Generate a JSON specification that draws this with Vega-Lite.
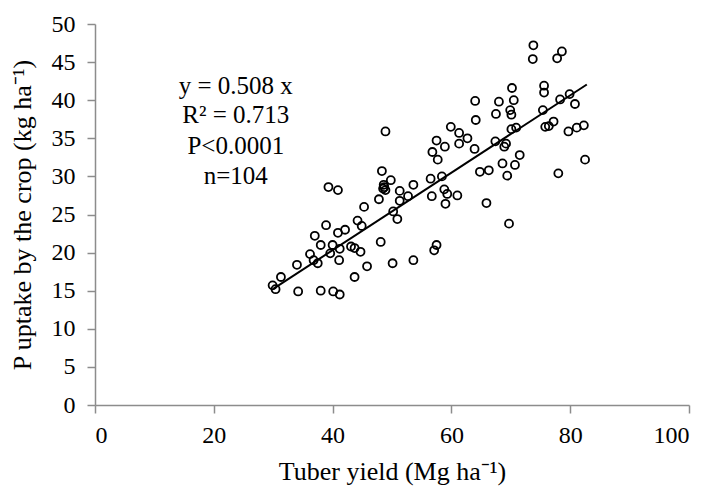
{
  "$schema": "https://vega.github.io/schema/vega-lite/v6.json",
  "width": 594,
  "height": 381,
  "autosize": {"type": "none"},
  "padding": {"left": 95, "top": 24, "right": 21, "bottom": 83},
  "background": "white",
  "config": {
    "view": {"stroke": null},
    "font": "Liberation Serif",
    "axis": {
      "grid": false,
      "domainColor": "#8c8c8c",
      "domainWidth": 1.5,
      "tickColor": "#8c8c8c",
      "tickWidth": 1.5,
      "tickSize": 8,
      "labelFont": "Liberation Serif",
      "labelFontSize": 24,
      "labelColor": "black",
      "labelOverlap": false,
      "titleFont": "Liberation Serif",
      "titleFontSize": 26,
      "titleFontWeight": "normal",
      "titleColor": "black"
    }
  },
  "datasets": {
    "pts": [
      {"yield": 48.9, "p": 35.9}, {"yield": 57.5, "p": 34.7}, {"yield": 56.8, "p": 33.2}, {"yield": 57.7, "p": 32.2},
      {"yield": 48.3, "p": 30.7}, {"yield": 49.8, "p": 29.5}, {"yield": 48.6, "p": 28.9}, {"yield": 48.7, "p": 28.6},
      {"yield": 48.9, "p": 28.2}, {"yield": 48.5, "p": 28.4}, {"yield": 53.6, "p": 28.9}, {"yield": 56.5, "p": 29.7},
      {"yield": 39.3, "p": 28.6}, {"yield": 40.9, "p": 28.2}, {"yield": 51.3, "p": 28.1}, {"yield": 47.8, "p": 27.0},
      {"yield": 51.3, "p": 26.8}, {"yield": 52.7, "p": 27.4}, {"yield": 56.7, "p": 27.4}, {"yield": 45.3, "p": 26.0},
      {"yield": 50.2, "p": 25.4}, {"yield": 50.9, "p": 24.4}, {"yield": 44.2, "p": 24.2}, {"yield": 44.9, "p": 23.5},
      {"yield": 38.9, "p": 23.6}, {"yield": 42.1, "p": 23.0}, {"yield": 40.9, "p": 22.6}, {"yield": 37.0, "p": 22.2},
      {"yield": 38.0, "p": 21.0}, {"yield": 40.0, "p": 21.0}, {"yield": 41.2, "p": 20.5}, {"yield": 48.1, "p": 21.4},
      {"yield": 43.1, "p": 20.8}, {"yield": 43.7, "p": 20.6}, {"yield": 44.7, "p": 20.1}, {"yield": 39.6, "p": 19.9},
      {"yield": 36.2, "p": 19.8}, {"yield": 36.8, "p": 19.0}, {"yield": 37.5, "p": 18.6}, {"yield": 41.1, "p": 19.0},
      {"yield": 34.0, "p": 18.4}, {"yield": 45.8, "p": 18.2}, {"yield": 50.1, "p": 18.6}, {"yield": 53.6, "p": 19.0},
      {"yield": 43.7, "p": 16.8}, {"yield": 31.3, "p": 16.8}, {"yield": 29.9, "p": 15.7}, {"yield": 30.4, "p": 15.2},
      {"yield": 34.2, "p": 14.9}, {"yield": 38.0, "p": 15.0}, {"yield": 40.1, "p": 14.9}, {"yield": 41.2, "p": 14.5},
      {"yield": 57.1, "p": 20.3}, {"yield": 57.5, "p": 21.0},
      {"yield": 73.8, "p": 47.2}, {"yield": 73.7, "p": 45.4}, {"yield": 78.6, "p": 46.4}, {"yield": 77.8, "p": 45.5},
      {"yield": 70.2, "p": 41.6}, {"yield": 75.6, "p": 41.9}, {"yield": 75.6, "p": 41.0}, {"yield": 64.0, "p": 39.9},
      {"yield": 68.0, "p": 39.8}, {"yield": 70.5, "p": 40.0}, {"yield": 79.9, "p": 40.8}, {"yield": 78.3, "p": 40.1},
      {"yield": 80.8, "p": 39.5}, {"yield": 69.9, "p": 38.7}, {"yield": 70.1, "p": 38.1}, {"yield": 67.5, "p": 38.2},
      {"yield": 75.4, "p": 38.7}, {"yield": 64.1, "p": 37.4}, {"yield": 59.9, "p": 36.5}, {"yield": 61.3, "p": 35.7},
      {"yield": 62.7, "p": 35.0}, {"yield": 61.3, "p": 34.3}, {"yield": 58.9, "p": 33.9}, {"yield": 63.9, "p": 33.6},
      {"yield": 70.1, "p": 36.2}, {"yield": 70.9, "p": 36.4}, {"yield": 67.4, "p": 34.6}, {"yield": 69.2, "p": 34.3},
      {"yield": 68.9, "p": 33.9}, {"yield": 75.8, "p": 36.5}, {"yield": 76.4, "p": 36.6}, {"yield": 77.2, "p": 37.2},
      {"yield": 79.7, "p": 35.9}, {"yield": 81.1, "p": 36.4}, {"yield": 82.3, "p": 36.7}, {"yield": 82.5, "p": 32.2},
      {"yield": 71.5, "p": 32.8}, {"yield": 68.6, "p": 31.7}, {"yield": 70.7, "p": 31.5}, {"yield": 69.4, "p": 30.1},
      {"yield": 64.8, "p": 30.6}, {"yield": 66.3, "p": 30.8}, {"yield": 78.0, "p": 30.4}, {"yield": 58.4, "p": 30.0},
      {"yield": 58.8, "p": 28.3}, {"yield": 59.3, "p": 27.7}, {"yield": 61.0, "p": 27.5}, {"yield": 59.0, "p": 26.4},
      {"yield": 65.9, "p": 26.5}, {"yield": 69.7, "p": 23.8}
    ],
    "fit": [
      {"yield": 30.0, "p": 15.24},
      {"yield": 82.8, "p": 42.06}
    ],
    "notes": [
      {"label": "y = 0.508 x", "yield": 23.7, "p": 41.9},
      {"label": "R² = 0.713", "yield": 23.7, "p": 38.0},
      {"label": "P<0.0001", "yield": 23.7, "p": 34.0},
      {"label": "n=104", "yield": 23.7, "p": 30.0}
    ]
  },
  "encoding": {
    "x": {"field": "yield", "type": "quantitative",
          "scale": {"domain": [0, 100], "nice": false, "zero": true},
          "axis": {"values": [0, 20, 40, 60, 80, 100], "title": "Tuber yield (Mg ha⁻¹)", "labelPadding": 10, "titlePadding": 11}},
    "y": {"field": "p", "type": "quantitative",
          "scale": {"domain": [0, 50], "nice": false},
          "axis": {"values": [0, 5, 10, 15, 20, 25, 30, 35, 40, 45, 50], "tickCount": 11, "title": "P uptake by the crop (kg ha⁻¹)", "labelPadding": 12, "titlePadding": 16}}
  },
  "layer": [
    {
      "data": {"name": "pts"},
      "mark": {"type": "point", "shape": "circle", "filled": false, "stroke": "black", "strokeWidth": 1.8, "size": 64, "opacity": 1}
    },
    {
      "data": {"name": "fit"},
      "mark": {"type": "line", "color": "black", "strokeWidth": 2}
    },
    {
      "data": {"name": "notes"},
      "mark": {"type": "text", "font": "Liberation Serif", "fontSize": 25, "align": "center", "baseline": "middle", "color": "black"},
      "encoding": {
        "text": {"field": "label"}
      }
    }
  ]
}
